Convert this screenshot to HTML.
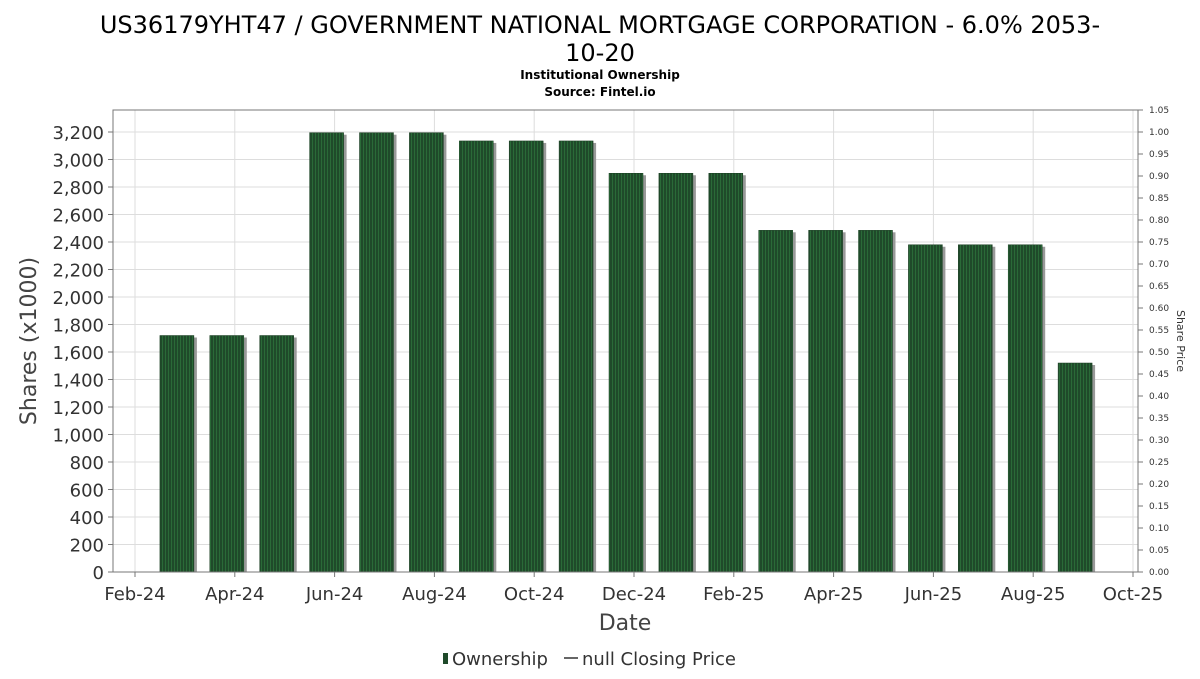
<!DOCTYPE html>
<html><head><meta charset="utf-8"><style>
body{margin:0;background:#fff;font-family:"DejaVu Sans","Liberation Sans",sans-serif}
</style></head><body>
<svg width="1200" height="675" xmlns="http://www.w3.org/2000/svg" font-family="DejaVu Sans, Liberation Sans, sans-serif">
<defs><pattern id="stripe" width="3" height="4" patternUnits="userSpaceOnUse"><rect width="3" height="4" fill="#1f4a2a"/><rect width="1" height="4" fill="#2a6a38"/></pattern></defs>
<text x="600" y="33" text-anchor="middle" font-size="24" fill="#000">US36179YHT47 / GOVERNMENT NATIONAL MORTGAGE CORPORATION - 6.0% 2053-</text>
<text x="600" y="61" text-anchor="middle" font-size="24" fill="#000">10-20</text>
<text x="600" y="79" text-anchor="middle" font-size="12" font-weight="bold">Institutional Ownership</text>
<text x="600" y="96" text-anchor="middle" font-size="12" font-weight="bold">Source: Fintel.io</text>
<g id="grid"></g>
<g id="bars"></g>
<rect x="113" y="110" width="1025" height="462" fill="none" stroke="#777" stroke-width="1"/>
<g id="axes"></g>
<text transform="translate(36,341) rotate(-90)" text-anchor="middle" font-size="22" fill="#444">Shares (x1000)</text>
<text transform="translate(1177,341) rotate(90)" text-anchor="middle" font-size="11" fill="#333">Share Price</text>
<text x="625" y="630" text-anchor="middle" font-size="22" fill="#444">Date</text>
<g>
<rect x="443" y="653" width="5" height="11" fill="#1f4a2a"/>
<text x="452" y="665" font-size="18" fill="#333">Ownership</text>
<line x1="564" y1="658" x2="578" y2="658" stroke="#333" stroke-width="1.5"/>
<text x="582" y="665" font-size="18" fill="#333">null Closing Price</text>
</g>
</svg>
<script>
const months=["Mar-24","Apr-24","May-24","Jun-24","Jul-24","Aug-24","Sep-24","Oct-24","Nov-24","Dec-24","Jan-25","Feb-25","Mar-25","Apr-25","May-25","Jun-25","Jul-25","Aug-25","Sep-25"];
const shares=[1720,1720,1720,3195,3195,3195,3135,3135,3135,2900,2900,2900,2485,2485,2485,2380,2380,2380,1520];
const xTicks=["Feb-24","Apr-24","Jun-24","Aug-24","Oct-24","Dec-24","Feb-25","Apr-25","Jun-25","Aug-25","Oct-25"];
const yTicks=[0,200,400,600,800,1000,1200,1400,1600,1800,2000,2200,2400,2600,2800,3000,3200];
const priceTicks=[0,0.05,0.1,0.15,0.2,0.25,0.3,0.35,0.4,0.45,0.5,0.55,0.6,0.65,0.7,0.75,0.8,0.85,0.9,0.95,1.0,1.05];
const NS="http://www.w3.org/2000/svg";
const y=v=>572-v*440/3200;
const yp=v=>572-v*440;
const xm=i=>135+i*49.9; // i months after Feb-24
function mk(t,a,p){const e=document.createElementNS(NS,t);for(const k in a)e.setAttribute(k,a[k]);p.appendChild(e);return e;}
const grid=document.getElementById('grid'),bars=document.getElementById('bars'),axes=document.getElementById('axes');
yTicks.forEach(v=>{
 const l=mk('line',{x1:113,x2:1138,y1:y(v),y2:y(v),stroke:'#ddd'},grid);
 
 
 const t=mk('line',{x1:108,x2:113,y1:y(v),y2:y(v),stroke:'#777'},axes);
 
 
 const tx=mk('text',{x:104,y:y(v)+7,'text-anchor':'end','font-size':18,fill:'#333'},axes);
 tx.textContent=v.toLocaleString('en-US');
 
 
});
priceTicks.forEach(v=>{
 const t=mk('line',{x1:1138,x2:1143,y1:yp(v),y2:yp(v),stroke:'#777'},axes);
 
 
 const tx=mk('text',{x:1149,y:yp(v)+3,'font-size':9,fill:'#333'},axes);
 tx.textContent=v.toFixed(2);
 
 
});
xTicks.forEach((s,i)=>{
 const x=xm(i*2);
 const l=mk('line',{x1:x,x2:x,y1:110,y2:572,stroke:'#ddd'},grid);
 
 
 const t=mk('line',{x1:x,x2:x,y1:572,y2:577,stroke:'#777'},axes);
 
 
 const tx=mk('text',{x:x,y:600,'text-anchor':'middle','font-size':18,fill:'#333'},axes);
 tx.textContent=s;
 
 
});
shares.forEach((v,i)=>{
 const cx=xm(i+1)-8;
 const sh=mk('rect',{x:cx-17+3,y:y(v)+2,width:34,height:572-y(v)-2,fill:'#999'},bars);
 
 
 const b=mk('rect',{x:cx-17,y:y(v),width:34,height:572-y(v),fill:'url(#stripe)',stroke:'#1a3d22','stroke-width':0.5},bars);
 
 
});
</script>
</body></html>
